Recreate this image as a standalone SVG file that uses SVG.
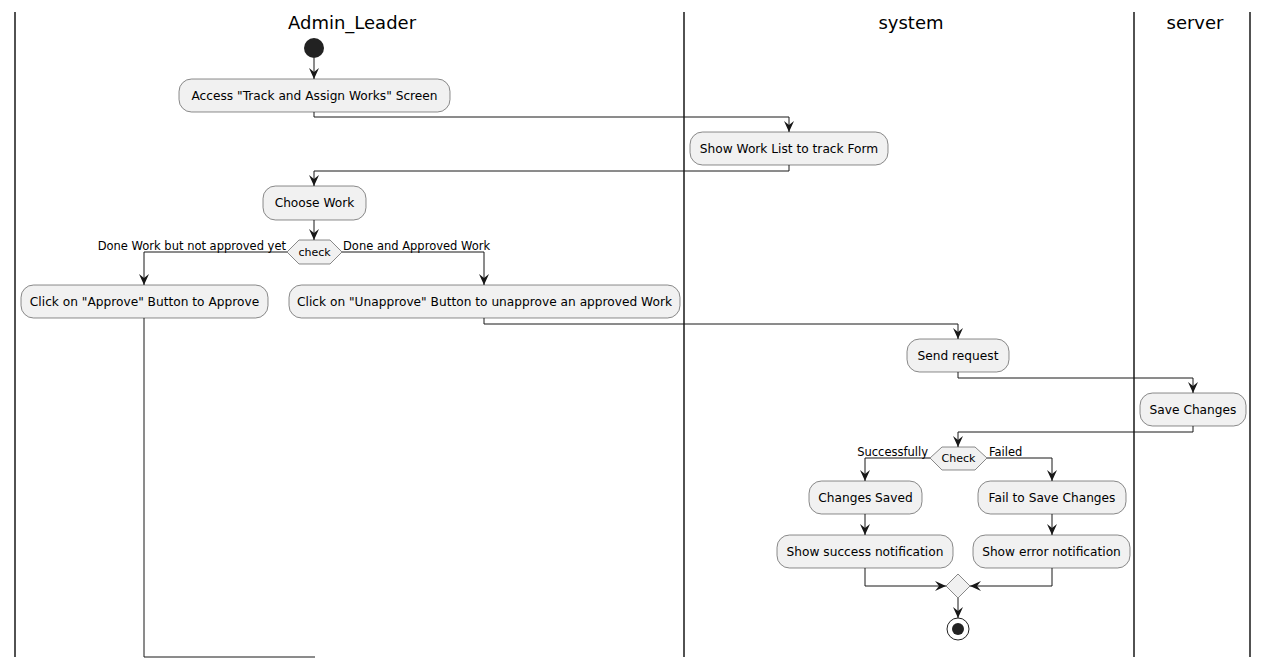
<svg xmlns="http://www.w3.org/2000/svg" width="1269" height="667" viewBox="0 0 1269 667">
<defs>
<style>
.box{fill:#F1F1F1;stroke:#181818;stroke-width:0.5}
.t{font-family:"DejaVu Sans",sans-serif;font-size:12.2px;fill:#000;text-anchor:middle}
.l{font-family:"DejaVu Sans",sans-serif;font-size:11.5px;fill:#000}
.lane{font-family:"DejaVu Sans",sans-serif;font-size:18px;fill:#000;text-anchor:middle}
.c{fill:none;stroke:#181818;stroke-width:1}
.sw{stroke:#181818;stroke-width:1.5}
</style>
<marker id="ah" viewBox="0 0 12 12" refX="11" refY="6" markerWidth="12" markerHeight="12" markerUnits="userSpaceOnUse" orient="auto">
<path d="M11,6 L0,1 L4,6 L0,11 Z" fill="#181818"/>
</marker>
</defs>
<rect width="1269" height="667" fill="#FFFFFF"/>
<g id="lanes">
<line class="sw" x1="15" y1="12" x2="15" y2="657"/>
<line class="sw" x1="684" y1="12" x2="684" y2="657"/>
<line class="sw" x1="1134" y1="12" x2="1134" y2="657"/>
<line class="sw" x1="1250" y1="12" x2="1250" y2="657"/>
<text class="lane" x="352" y="29">Admin_Leader</text>
<text class="lane" x="911" y="29">system</text>
<text class="lane" x="1195" y="29">server</text>
</g>
<g id="connectors">
<path class="c" d="M314,58 V79" marker-end="url(#ah)"/>
<path class="c" d="M314,112 V117 H789 V132" marker-end="url(#ah)"/>
<path class="c" d="M789,165 V171 H314 V186" marker-end="url(#ah)"/>
<path class="c" d="M314,220 V240" marker-end="url(#ah)"/>
<path class="c" d="M287,252 H144 V285" marker-end="url(#ah)"/>
<path class="c" d="M342,252 H484 V285" marker-end="url(#ah)"/>
<path class="c" d="M144,318 V657 H315"/>
<path class="c" d="M484,318 V324 H958 V339" marker-end="url(#ah)"/>
<path class="c" d="M958,372 V378 H1193 V393" marker-end="url(#ah)"/>
<path class="c" d="M1193,426 V432 H958 V447" marker-end="url(#ah)"/>
<path class="c" d="M930,458 H865 V481" marker-end="url(#ah)"/>
<path class="c" d="M987,458 H1052 V481" marker-end="url(#ah)"/>
<path class="c" d="M865,514 V535" marker-end="url(#ah)"/>
<path class="c" d="M1052,514 V535" marker-end="url(#ah)"/>
<path class="c" d="M865,568 V586 H946" marker-end="url(#ah)"/>
<path class="c" d="M1052,568 V586 H970" marker-end="url(#ah)"/>
<path class="c" d="M958,598 V618" marker-end="url(#ah)"/>
<text class="l" x="286" y="250" text-anchor="end">Done Work but not approved yet</text>
<text class="l" x="343" y="250">Done and Approved Work</text>
<text class="l" x="928" y="456" text-anchor="end">Successfully</text>
<text class="l" x="989" y="456">Failed</text>
</g>
<g id="start"><circle cx="314" cy="48" r="10" fill="#222222"/></g>
<g id="access"><rect class="box" x="179" y="79" width="271" height="33" rx="12.5"/><text class="t" x="314.5" y="100">Access "Track and Assign Works" Screen</text></g>
<g id="showlist"><rect class="box" x="690" y="132" width="198" height="33" rx="12.5"/><text class="t" x="789" y="153">Show Work List to track Form</text></g>
<g id="choose"><rect class="box" x="263" y="186" width="103" height="34" rx="12.5"/><text class="t" x="314.5" y="207">Choose Work</text></g>
<g id="check1"><polygon class="box" points="287,252 299,240 330,240 342,252 330,264 299,264"/><text class="l" x="314.5" y="256" text-anchor="middle" style="font-size:11px">check</text></g>
<g id="approve"><rect class="box" x="21" y="285" width="247" height="33" rx="12.5"/><text class="t" x="144.5" y="306">Click on "Approve" Button to Approve</text></g>
<g id="unapprove"><rect class="box" x="289" y="285" width="391" height="33" rx="12.5"/><text class="t" x="484.5" y="306">Click on "Unapprove" Button to unapprove an approved Work</text></g>
<g id="send"><rect class="box" x="907" y="339" width="102" height="33" rx="12.5"/><text class="t" x="958" y="360">Send request</text></g>
<g id="save"><rect class="box" x="1140" y="393" width="106" height="33" rx="12.5"/><text class="t" x="1193" y="414">Save Changes</text></g>
<g id="check2"><polygon class="box" points="930,458 942,447 975,447 987,458 975,470 942,470"/><text class="l" x="958.5" y="462" text-anchor="middle" style="font-size:11px">Check</text></g>
<g id="saved"><rect class="box" x="809" y="481" width="113" height="33" rx="12.5"/><text class="t" x="865.5" y="502">Changes Saved</text></g>
<g id="fail"><rect class="box" x="978" y="481" width="148" height="33" rx="12.5"/><text class="t" x="1052" y="502">Fail to Save Changes</text></g>
<g id="success"><rect class="box" x="777" y="535" width="176" height="33" rx="12.5"/><text class="t" x="865" y="556">Show success notification</text></g>
<g id="error"><rect class="box" x="973" y="535" width="157" height="33" rx="12.5"/><text class="t" x="1051.5" y="556">Show error notification</text></g>
<g id="merge"><polygon class="box" points="958,574 970,586 958,598 946,586"/></g>
<g id="end"><circle cx="958" cy="629" r="11" fill="none" stroke="#222222" stroke-width="1"/><circle cx="958" cy="629" r="6" fill="#222222"/></g>
</svg>
